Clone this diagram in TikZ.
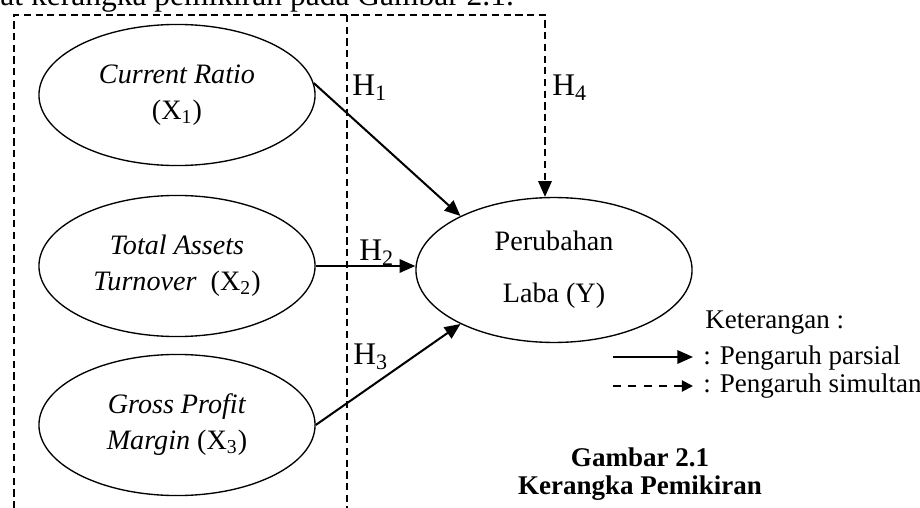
\documentclass[tikz,border=0pt]{standalone}
\usepackage{fontspec}
\setmainfont{Liberation Serif}
\usepackage{tikz}
\usetikzlibrary{shapes.geometric, arrows.meta, calc}
\colorlet{line-color}{black}
\tikzset{
    var/.style = {draw=line-color, ellipse, line width=0.6pt, inner sep=0pt,
        minimum width=122.7pt, minimum height=62.7pt, align=center,
        font=\fontsize{12.5}{16}\selectfont},
    hyp/.style = {font=\fontsize{14}{16}\selectfont, inner sep=0pt, anchor=west},
    frame/.style = {draw=line-color, line width=0.7pt, dash pattern=on 3.2pt off 2pt},
    partial/.style = {draw=line-color, -{Triangle[length=7pt,width=6pt]}, line width=0.9pt},
    simul/.style = {frame, -{Triangle[length=7pt,width=6pt]}},
    simul key/.style = {draw=line-color, -{Triangle[length=5pt,width=5pt]}, line width=0.9pt,
        dash pattern=on 3.6pt off 3.2pt},
    legend/.style = {font=\fontsize{12}{14}\selectfont, inner sep=0pt, anchor=west},
}
\begin{document}
\begin{tikzpicture}[x=0.4444pt, y=-0.4444pt]
\useasboundingbox (0,0) rectangle (920,508);
\clip (0,0) rectangle (920,508);

\node[anchor=base west, inner sep=0pt, font=\fontsize{14}{16}\selectfont] (intro) at (0,6) {at kerangka pemikiran pada Gambar 2.1.};

\node[var] (x1) at (177,95) {\textit{Current Ratio}\\(X\textsubscript{1})};
\node[var] (x2) at (177,266) {\textit{Total Assets}\\\textit{Turnover}~ (X\textsubscript{2})};
\node[var] (x3) at (177,425) {\textit{Gross Profit}\\\textit{Margin} (X\textsubscript{3})};
\node[var, minimum height=64.4pt, font=\fontsize{12.5}{23}\selectfont] (y) at (554,270) {Perubahan\\Laba (Y)};

\coordinate (boxsw) at (14,520);
\coordinate (boxnw) at (14,15);
\coordinate (boxne) at (545,15);
\coordinate (splitn) at (347,15);
\coordinate (splits) at (347,520);
\draw[simul] (boxsw) -- (boxnw) -- (boxne) -- (boxne |- y.north);
\draw[frame] (splitn) -- (splits);

\draw[partial] (x1.5) -- (y.150);
\draw[partial] (x2.east) -- (x2.east -| y.west);
\draw[partial] (x3.east) -- (y.210);

\node[hyp] (h1) at (352,88) {H\textsubscript{1}};
\node[hyp] (h2) at (359,253) {H\textsubscript{2}};
\node[hyp] (h3) at (353,357) {H\textsubscript{3}};
\node[hyp] (h4) at (552,88) {H\textsubscript{4}};

\node[legend] (ket) at (705,323) {Keterangan :};
\node[legend] (lpar) at (703,358) {: Pengaruh parsial};
\node[legend] (lsim) at (703,386) {: Pengaruh simultan};
\coordinate (lpars) at (613,357);
\coordinate (lpare) at (693,357);
\coordinate (lsims) at (613,386);
\coordinate (lsime) at (693,386);
\draw[partial] (lpars) -- (lpare);
\draw[simul key] (lsims) -- (lsime);

\node[font=\fontsize{12}{12.5}\selectfont\bfseries, align=center, inner sep=0pt] (cap) at (640,474) {Gambar 2.1\\Kerangka Pemikiran};
\end{tikzpicture}
\end{document}
